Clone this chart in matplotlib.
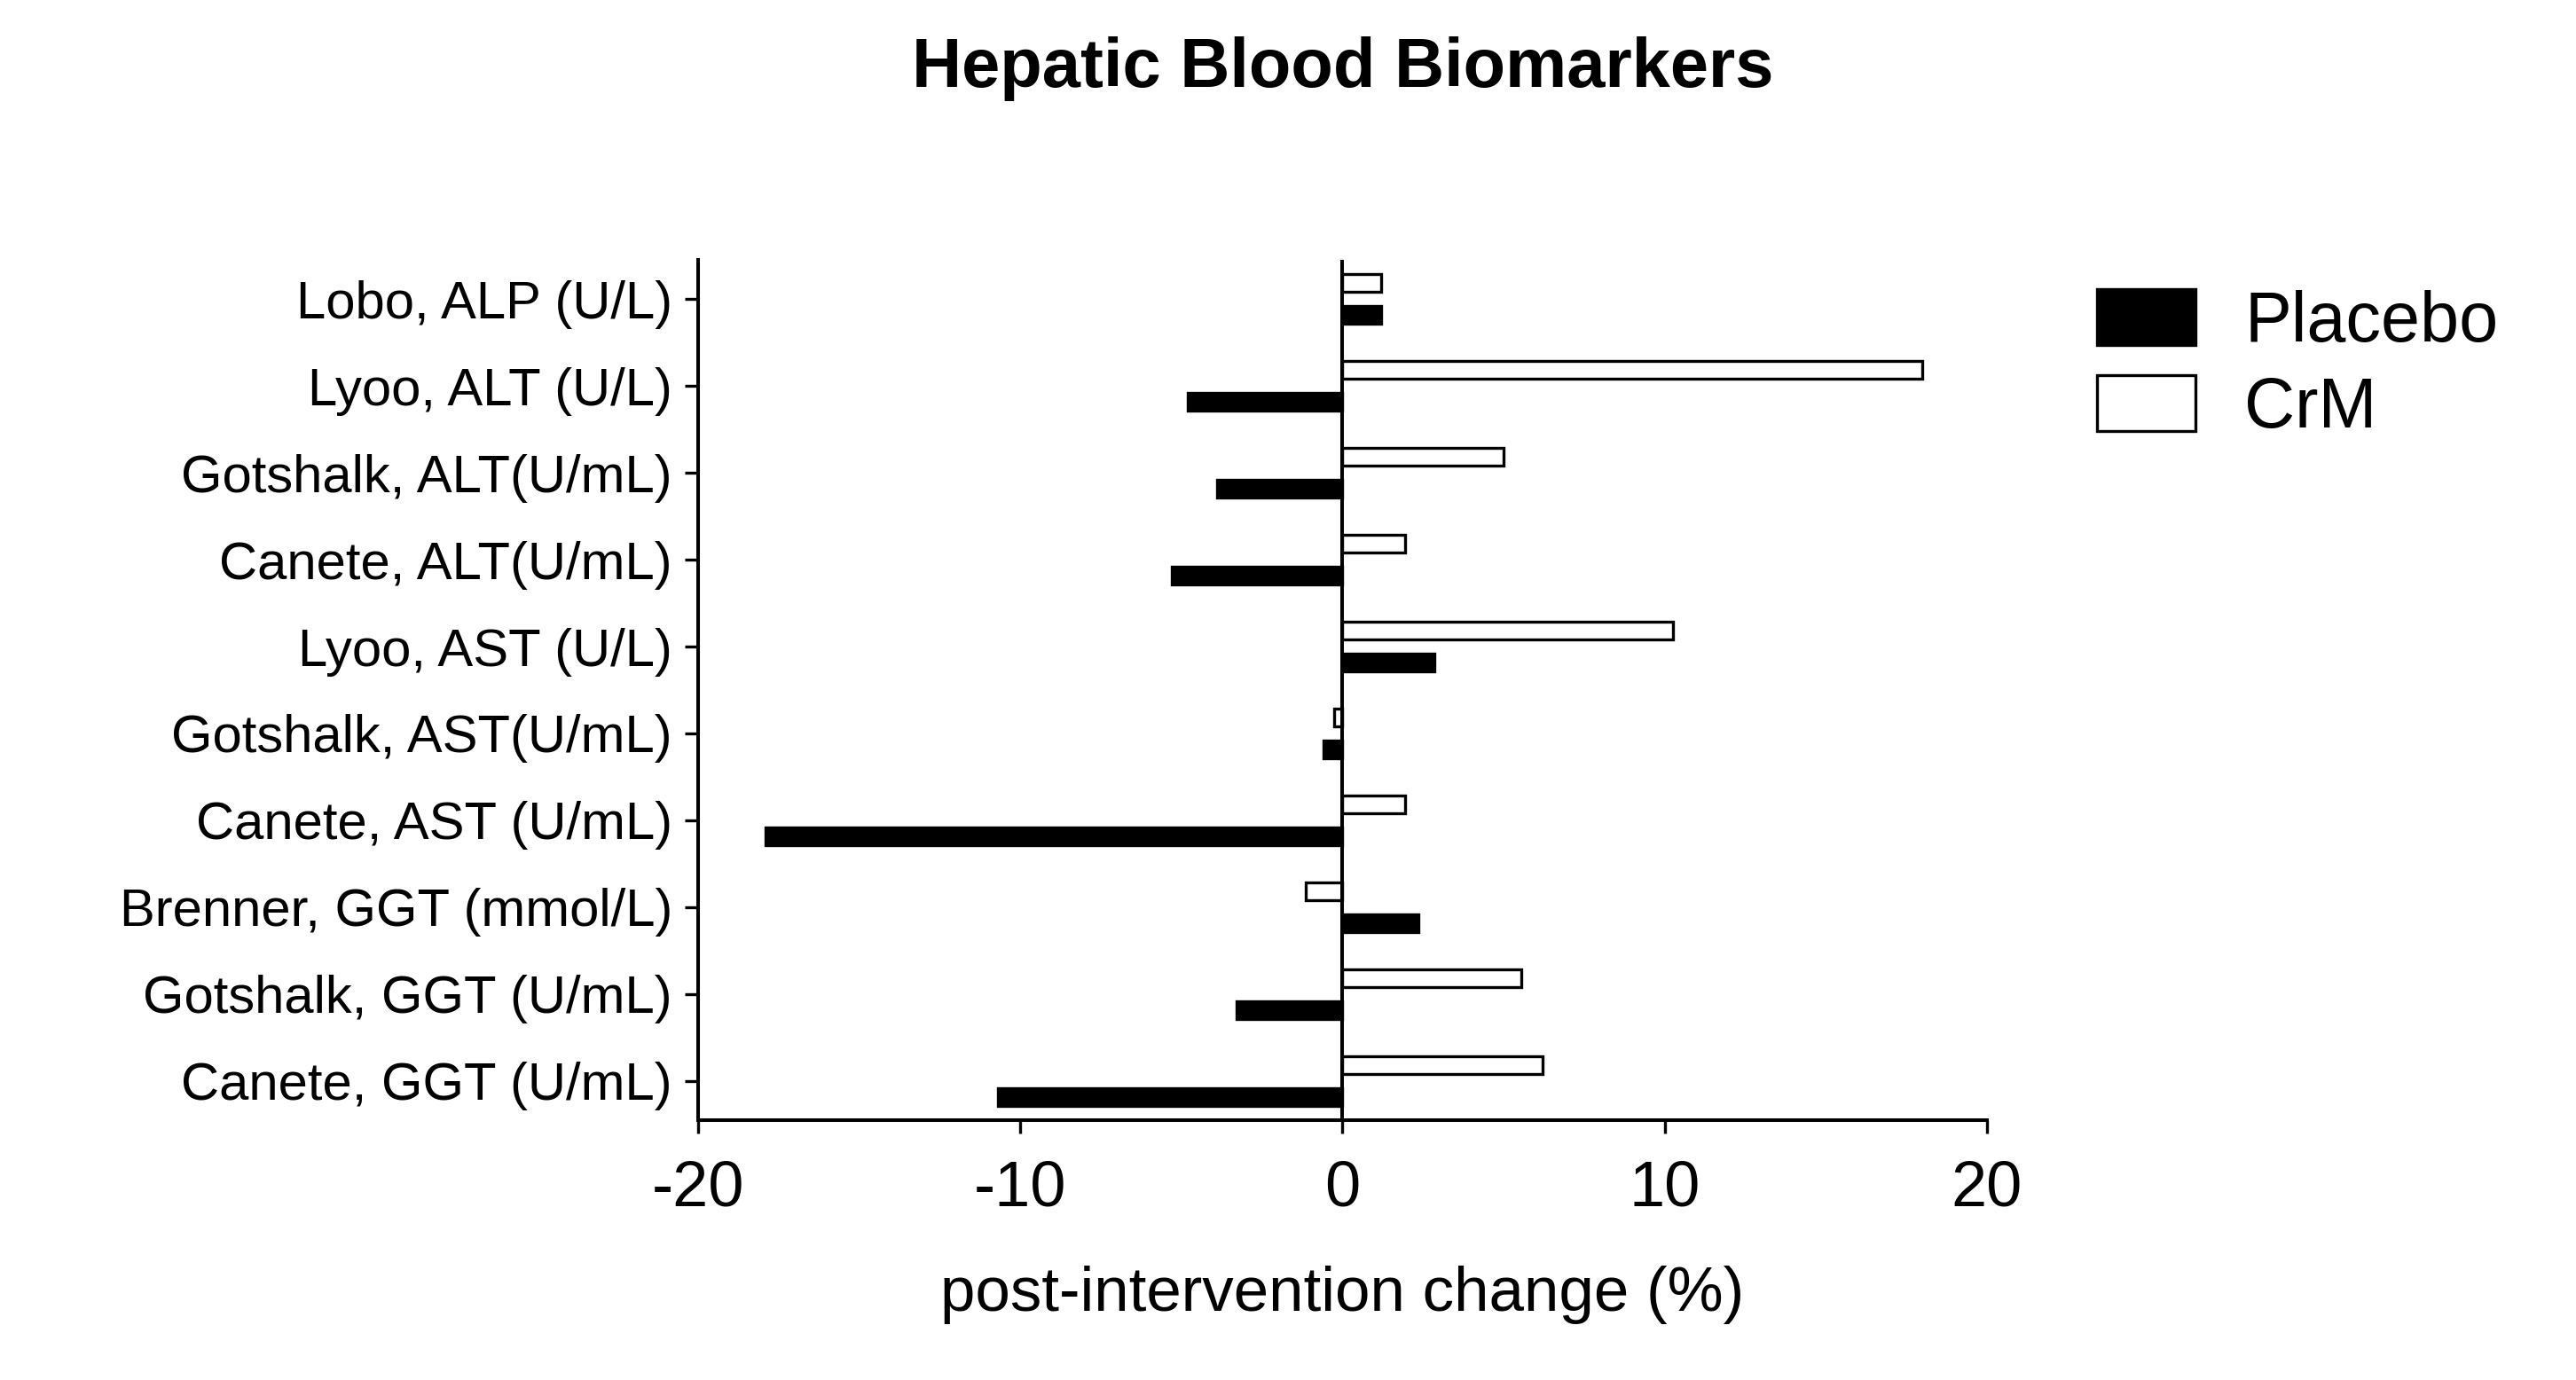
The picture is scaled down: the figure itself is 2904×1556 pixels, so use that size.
import matplotlib
matplotlib.use("Agg")
import matplotlib.pyplot as plt
import numpy as np
from matplotlib.patches import Patch

plt.rcParams['font.family'] = ['Liberation Sans', 'DejaVu Sans']

categories = [
    "Lobo, ALP (U/L)",
    "Lyoo, ALT (U/L)",
    "Gotshalk, ALT(U/mL)",
    "Canete, ALT(U/mL)",
    "Lyoo, AST (U/L)",
    "Gotshalk, AST(U/mL)",
    "Canete, AST (U/mL)",
    "Brenner, GGT (mmol/L)",
    "Gotshalk, GGT (U/mL)",
    "Canete, GGT (U/mL)",
]
placebo = [1.2, -4.8, -3.9, -5.3, 2.85, -0.6, -17.9, 2.35, -3.3, -10.7]
crm = [1.2, 18.0, 5.0, 1.95, 10.25, -0.25, 1.95, -1.15, 5.55, 6.2]
xticks = [-20, -10, 0, 10, 20]

fig = plt.figure(figsize=(29.04, 15.56), dpi=100)
ax = fig.add_axes([0.271, 0.1883, 0.5003, 0.6234])

y = np.arange(len(categories))
h = 0.2
off = 0.185
lw = 2.4
ax.barh(y - off, crm, height=h, color='white', edgecolor='black', linewidth=lw, label='CrM', zorder=2)
ax.barh(y + off, placebo, height=h, color='black', edgecolor='black', linewidth=lw, label='Placebo', zorder=2)
ax.axvline(0, color='black', linewidth=2.9, zorder=3)

ax.set_xlim(-20, 20)
ax.set_ylim(len(categories) - 1 + 0.45, -0.45)
ax.set_yticks(y)
ax.set_yticklabels(categories)
ax.set_xticks(xticks)
ax.set_xticklabels([str(t) for t in xticks])

for s in ['top', 'right']:
    ax.spines[s].set_visible(False)
for s in ['left', 'bottom']:
    ax.spines[s].set_linewidth(2.9)

ax.tick_params(axis='y', length=10.8, width=2.4, pad=10, labelsize=43, direction='out')
ax.tick_params(axis='x', length=10.8, width=2.4, pad=21, labelsize=52, direction='out')

ax.set_xlabel("post-intervention change (%)", fontsize=51, labelpad=38)

fig.text(0.5212, 0.937, "Hepatic Blood Biomarkers", fontsize=56, fontweight='bold',
         ha='center', va='baseline')

handles = [Patch(facecolor='black', edgecolor='black', linewidth=lw, label='Placebo'),
           Patch(facecolor='white', edgecolor='black', linewidth=lw, label='CrM')]
ax.legend(handles=handles, loc='upper left', bbox_to_anchor=(0.814, 0.7905),
          bbox_transform=fig.transFigure, frameon=False, fontsize=57,
          borderpad=0, borderaxespad=0, handlelength=1.4, handleheight=0.85,
          handletextpad=0.7, labelspacing=0.27)

fig.savefig("out.png", dpi=100, facecolor='white')
